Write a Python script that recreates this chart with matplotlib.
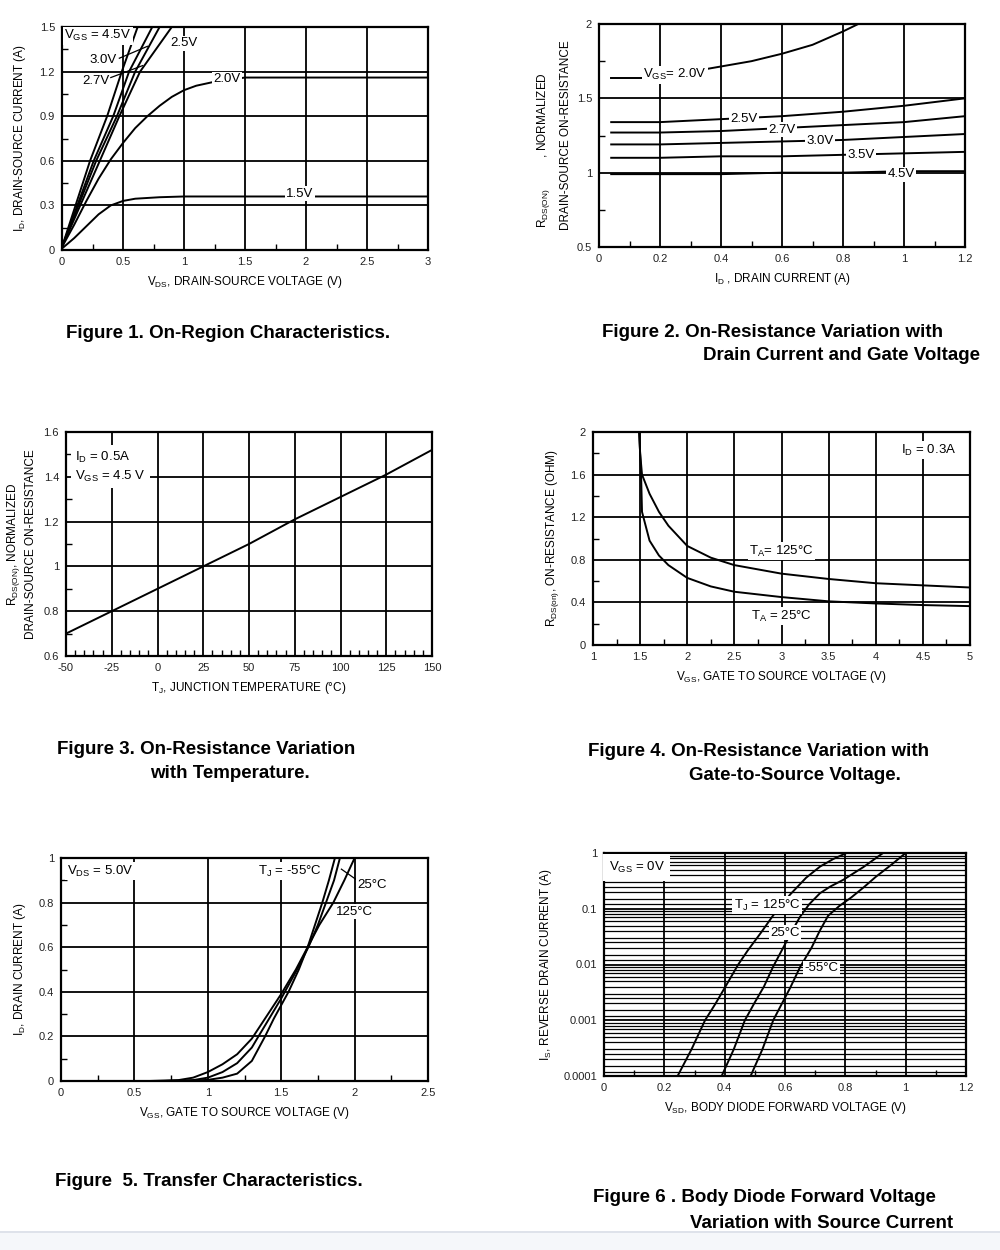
import matplotlib
matplotlib.use("Agg")
import matplotlib.pyplot as plt
from matplotlib.ticker import MultipleLocator, FuncFormatter, FixedLocator, LogLocator, NullFormatter

plt.rcParams['font.family'] = ['Liberation Sans', 'DejaVu Sans']
plt.rcParams['mathtext.default'] = 'regular'

# ---- Figure 1: on-region characteristics (ID vs VDS)
f1_vds_45 = [0, 0.23, 0.37, 0.49, 0.62]
f1_id_45 = [0.02, 0.6, 0.9, 1.2, 1.5]
f1_vds_30 = [0, 0.26, 0.42, 0.55, 0.74]
f1_id_30 = [0.02, 0.6, 0.9, 1.2, 1.5]
f1_vds_27 = [0, 0.28, 0.45, 0.60, 0.80]
f1_id_27 = [0.02, 0.6, 0.9, 1.2, 1.5]
f1_vds_25 = [0, 0.31, 0.47, 0.64, 0.90]
f1_id_25 = [0.02, 0.6, 0.9, 1.2, 1.5]
f1_vds_20 = [0, 0.1, 0.2, 0.3, 0.4, 0.5, 0.6, 0.7, 0.8, 0.9, 1.0, 1.1, 1.24, 1.5, 3.0]
f1_id_20 = [0.02, 0.17, 0.33, 0.48, 0.61, 0.72, 0.82, 0.9, 0.97, 1.03, 1.075, 1.105, 1.13, 1.16, 1.16]
f1_vds_15 = [0, 0.1, 0.2, 0.3, 0.4, 0.5, 0.6, 0.8, 1.0, 3.0]
f1_id_15 = [0.01, 0.08, 0.16, 0.24, 0.3, 0.33, 0.345, 0.355, 0.36, 0.36]

# ---- Figure 2: normalized RDS(on) vs ID
f2_id = [0.04, 0.2, 0.4, 0.6, 0.8, 1.0, 1.2]
f2_r25 = [1.34, 1.34, 1.36, 1.38, 1.41, 1.45, 1.50]
f2_r27 = [1.27, 1.27, 1.28, 1.30, 1.32, 1.34, 1.38]
f2_r30 = [1.19, 1.19, 1.20, 1.21, 1.22, 1.24, 1.26]
f2_r35 = [1.10, 1.10, 1.11, 1.11, 1.12, 1.13, 1.14]
f2_r45 = [0.99, 0.99, 0.99, 1.00, 1.00, 1.01, 1.01]
f2_id_20 = [0.04, 0.14, 0.36, 0.5, 0.6, 0.7, 0.8, 0.85]
f2_r20 = [1.64, 1.64, 1.70, 1.75, 1.80, 1.86, 1.95, 2.0]

# ---- Figure 3: normalized RDS(on) vs temperature
f3_tj = [-50, -25, 0, 25, 50, 75, 100, 125, 150]
f3_r = [0.70, 0.80, 0.90, 1.00, 1.10, 1.21, 1.31, 1.41, 1.52]

# ---- Figure 4: RDS(on) vs VGS
f4_vgs_125 = [1.49, 1.50, 1.52, 1.6, 1.7, 1.8, 2.0, 2.25, 2.5, 3.0, 3.5, 4.0, 4.5, 5.0]
f4_r_125 = [2.0, 1.8, 1.6, 1.42, 1.25, 1.12, 0.93, 0.82, 0.75, 0.67, 0.62, 0.58, 0.56, 0.54]
f4_vgs_25 = [1.49, 1.51, 1.52, 1.6, 1.7, 1.8, 2.0, 2.25, 2.5, 3.0, 3.5, 4.0, 4.5, 5.0]
f4_r_25 = [2.0, 1.6, 1.25, 0.98, 0.84, 0.75, 0.63, 0.55, 0.50, 0.45, 0.41, 0.39, 0.375, 0.365]

# ---- Figure 5: transfer characteristics
f5_vgs_125 = [0.6, 0.8, 0.9, 1.0, 1.1, 1.2, 1.3, 1.4, 1.5, 1.6, 1.68, 1.76, 1.855, 1.93, 2.0]
f5_id_125 = [0, 0.004, 0.015, 0.04, 0.075, 0.12, 0.19, 0.29, 0.39, 0.5, 0.6, 0.7, 0.8, 0.9, 1.0]
f5_vgs_25 = [0.7, 0.9, 1.0, 1.1, 1.2, 1.3, 1.345, 1.4, 1.5, 1.6, 1.685, 1.75, 1.805, 1.86, 1.90]
f5_id_25 = [0, 0.004, 0.015, 0.04, 0.08, 0.15, 0.2, 0.26, 0.37, 0.49, 0.6, 0.7, 0.8, 0.9, 1.0]
f5_vgs_m55 = [0.8, 1.0, 1.1, 1.2, 1.3, 1.39, 1.45, 1.55, 1.62, 1.68, 1.73, 1.78, 1.825, 1.866]
f5_id_m55 = [0, 0.005, 0.015, 0.033, 0.09, 0.2, 0.28, 0.40, 0.5, 0.6, 0.7, 0.8, 0.9, 1.0]

# ---- Figure 6: body diode forward voltage
f6_vsd_125 = [0.244, 0.29, 0.335, 0.37, 0.40, 0.445, 0.477, 0.52, 0.56, 0.59, 0.617, 0.67, 0.716, 0.76, 0.804]
f6_is_125 = [1e-4, 3e-4, 1e-3, 2e-3, 3.8e-3, 0.01, 0.018, 0.037, 0.075, 0.12, 0.18, 0.36, 0.57, 0.78, 1.0]
f6_vsd_25 = [0.39, 0.43, 0.467, 0.50, 0.53, 0.56, 0.594, 0.62, 0.65, 0.68, 0.716, 0.75, 0.793, 0.86, 0.925]
f6_is_25 = [1e-4, 3e-4, 1e-3, 2.1e-3, 4e-3, 0.009, 0.02, 0.037, 0.072, 0.12, 0.19, 0.25, 0.33, 0.56, 1.0]
f6_vsd_m55 = [0.486, 0.525, 0.561, 0.59, 0.617, 0.65, 0.688, 0.715, 0.743, 0.78, 0.82, 0.86, 0.9, 0.95, 1.0]
f6_is_m55 = [1e-4, 3e-4, 1e-3, 2e-3, 3.8e-3, 0.009, 0.02, 0.04, 0.075, 0.112, 0.16, 0.24, 0.37, 0.6, 1.0]

W, H = 1000, 1250
fig = plt.figure(figsize=(10, 12.5), dpi=100)

LW = 1.4
GRID = 1.3
TICK_FS = 8
LAB_FS = 8.5
ANN_FS = 9.5
CAP_FS = 13.5
box = dict(facecolor='white', edgecolor='none', pad=1.0)
fmt = FuncFormatter(lambda v, p: '%g' % v)


def px_axes(l, t, r, b):
    return fig.add_axes([l / W, 1 - b / H, (r - l) / W, (b - t) / H])


def style(ax, xlim, ylim, xmaj, ymaj, xmin, ymin):
    ax.set_xlim(*xlim)
    ax.set_ylim(*ylim)
    ax.xaxis.set_major_locator(MultipleLocator(xmaj))
    ax.yaxis.set_major_locator(MultipleLocator(ymaj))
    ax.xaxis.set_minor_locator(MultipleLocator(xmin))
    ax.yaxis.set_minor_locator(MultipleLocator(ymin))
    ax.xaxis.set_major_formatter(fmt)
    ax.yaxis.set_major_formatter(fmt)
    ax.grid(True, which='major', color='black', lw=GRID)
    ax.tick_params(which='both', direction='in', labelsize=TICK_FS, labelcolor='#222222')
    ax.tick_params(which='major', length=0, pad=5)
    ax.tick_params(which='minor', length=4, width=1)
    for s in ax.spines.values():
        s.set_linewidth(1.6)


def caption(x, y, s):
    fig.text(x / W, 1 - y / H, s, fontsize=CAP_FS, fontweight='bold', ha='left', va='center')


# Figure 1
ax1 = px_axes(62, 27, 428, 250)
style(ax1, (0, 3), (0, 1.5), 0.5, 0.3, 0.25, 0.15)
for xs, ys in [(f1_vds_45, f1_id_45), (f1_vds_30, f1_id_30), (f1_vds_27, f1_id_27),
               (f1_vds_25, f1_id_25), (f1_vds_20, f1_id_20), (f1_vds_15, f1_id_15)]:
    ax1.plot(xs, ys, color='black', lw=LW)
ax1.text(0.02, 1.44, 'V$_{GS}$ = 4.5V', fontsize=ANN_FS, ha='left', va='center', bbox=box)
ax1.text(0.34, 1.28, '3.0V', fontsize=ANN_FS, ha='center', va='center')
ax1.plot([0.47, 0.70], [1.29, 1.37], color='black', lw=0.9)
ax1.text(0.28, 1.14, '2.7V', fontsize=ANN_FS, ha='center', va='center')
ax1.plot([0.40, 0.66], [1.16, 1.24], color='black', lw=0.9)
ax1.text(1.0, 1.39, '2.5V', fontsize=ANN_FS, ha='center', va='center', bbox=box)
ax1.text(1.35, 1.15, '2.0V', fontsize=ANN_FS, ha='center', va='center', bbox=box)
ax1.text(1.95, 0.38, '1.5V', fontsize=ANN_FS, ha='center', va='center', bbox=box)
ax1.set_xlabel('V$_{DS}$, DRAIN-SOURCE VOLTAGE (V)', fontsize=LAB_FS, labelpad=5)
ax1.set_ylabel('I$_D$, DRAIN-SOURCE CURRENT (A)', fontsize=LAB_FS, labelpad=8)
caption(66, 333, 'Figure 1. On-Region Characteristics.')

# Figure 2
ax2 = px_axes(599, 24, 965, 247)
style(ax2, (0, 1.2), (0.5, 2), 0.2, 0.5, 0.1, 0.25)
ax2.plot(f2_id_20[:2], f2_r20[:2], color='black', lw=LW)
ax2.plot(f2_id_20[2:], f2_r20[2:], color='black', lw=LW)
for ys in [f2_r25, f2_r27, f2_r30, f2_r35, f2_r45]:
    ax2.plot(f2_id, ys, color='black', lw=LW)
ax2.text(0.145, 1.66, 'V$_{GS}$= 2.0V', fontsize=ANN_FS, ha='left', va='center', bbox=box)
ax2.text(0.475, 1.36, '2.5V', fontsize=ANN_FS, ha='center', va='center', bbox=box)
ax2.text(0.6, 1.29, '2.7V', fontsize=ANN_FS, ha='center', va='center', bbox=box)
ax2.text(0.725, 1.21, '3.0V', fontsize=ANN_FS, ha='center', va='center', bbox=box)
ax2.text(0.86, 1.12, '3.5V', fontsize=ANN_FS, ha='center', va='center', bbox=box)
ax2.text(0.99, 0.99, '4.5V', fontsize=ANN_FS, ha='center', va='center', bbox=box)
ax2.set_xlabel('I$_D$ , DRAIN CURRENT (A)', fontsize=LAB_FS, labelpad=5)
fig.text(543 / W, 1 - 150 / H, 'R$_{DS(ON)}$          , NORMALIZED', fontsize=LAB_FS,
         rotation=90, ha='center', va='center')
fig.text(566 / W, 1 - 135 / H, 'DRAIN-SOURCE ON-RESISTANCE', fontsize=LAB_FS,
         rotation=90, ha='center', va='center')
caption(602, 332, 'Figure 2. On-Resistance Variation with')
caption(703, 356, 'Drain Current and Gate Voltage')

# Figure 3
ax3 = px_axes(66, 432, 432, 656)
style(ax3, (-50, 150), (0.6, 1.6), 25, 0.2, 5, 0.1)
ax3.plot(f3_tj, f3_r, color='black', lw=LW)
ax3.text(-45, 1.445, 'I$_D$ = 0.5A\nV$_{GS}$ = 4.5 V', fontsize=ANN_FS, ha='left', va='center',
         linespacing=1.4, bbox=dict(facecolor='white', edgecolor='none', pad=3))
ax3.set_xlabel('T$_J$, JUNCTION TEMPERATURE (°C)', fontsize=LAB_FS, labelpad=5)
ax3.set_ylabel('R$_{DS(ON)}$, NORMALIZED\nDRAIN-SOURCE ON-RESISTANCE', fontsize=LAB_FS,
               labelpad=5, linespacing=1.3)
caption(57, 750, 'Figure 3. On-Resistance Variation')
caption(150, 774, 'with Temperature.')

# Figure 4
ax4 = px_axes(593, 432, 970, 645)
style(ax4, (1, 5), (0, 2), 0.5, 0.4, 0.25, 0.2)
ax4.plot(f4_vgs_125, f4_r_125, color='black', lw=LW)
ax4.plot(f4_vgs_25, f4_r_25, color='black', lw=LW)
ax4.text(4.85, 1.83, 'I$_D$ = 0.3A', fontsize=ANN_FS, ha='right', va='center', bbox=box)
ax4.text(3.0, 0.88, 'T$_A$= 125°C', fontsize=ANN_FS, ha='center', va='center', bbox=box)
ax4.text(3.0, 0.27, 'T$_A$ = 25°C', fontsize=ANN_FS, ha='center', va='center', bbox=box)
ax4.set_xlabel('V$_{GS}$, GATE TO SOURCE VOLTAGE (V)', fontsize=LAB_FS, labelpad=5)
ax4.set_ylabel('R$_{DS(on)}$, ON-RESISTANCE (OHM)', fontsize=LAB_FS, labelpad=7)
caption(588, 752, 'Figure 4. On-Resistance Variation with')
caption(689, 776, 'Gate-to-Source Voltage.')

# Figure 5
ax5 = px_axes(61, 858, 428, 1081)
style(ax5, (0, 2.5), (0, 1), 0.5, 0.2, 0.25, 0.1)
ax5.plot(f5_vgs_125, f5_id_125, color='black', lw=LW)
ax5.plot(f5_vgs_25, f5_id_25, color='black', lw=LW)
ax5.plot(f5_vgs_m55, f5_id_m55, color='black', lw=LW)
ax5.text(0.04, 0.94, 'V$_{DS}$ = 5.0V', fontsize=ANN_FS, ha='left', va='center', bbox=box)
ax5.text(1.56, 0.94, 'T$_J$ = -55°C', fontsize=ANN_FS, ha='center', va='center', bbox=box)
ax5.text(2.12, 0.88, '25°C', fontsize=ANN_FS, ha='center', va='center', bbox=box)
ax5.plot([1.91, 2.04], [0.95, 0.89], color='black', lw=0.9)
ax5.text(2.0, 0.76, '125°C', fontsize=ANN_FS, ha='center', va='center', bbox=box)
ax5.set_xlabel('V$_{GS}$, GATE TO SOURCE VOLTAGE (V)', fontsize=LAB_FS, labelpad=5)
ax5.set_ylabel('I$_D$, DRAIN CURRENT (A)', fontsize=LAB_FS, labelpad=8)
caption(55, 1181, 'Figure  5. Transfer Characteristics.')

# Figure 6
ax6 = px_axes(604, 853, 966, 1076)
ax6.set_yscale('log')
ax6.set_xlim(0, 1.2)
ax6.set_ylim(1e-4, 1)
ax6.xaxis.set_major_locator(MultipleLocator(0.2))
ax6.xaxis.set_minor_locator(MultipleLocator(0.1))
ax6.xaxis.set_major_formatter(fmt)
ax6.yaxis.set_major_locator(FixedLocator([1e-4, 1e-3, 1e-2, 1e-1, 1]))
ax6.yaxis.set_major_formatter(FuncFormatter(lambda v, p: '%g' % v if v >= 1e-3 else '0.0001'))
ax6.yaxis.set_minor_locator(LogLocator(base=10, subs=[1.2, 1.5, 2, 2.5, 3, 4, 5, 6, 7, 8, 9], numticks=20))
ax6.yaxis.set_minor_formatter(NullFormatter())
ax6.grid(True, which='major', color='black', lw=GRID)
ax6.grid(True, which='minor', axis='y', color='black', lw=0.9)
ax6.tick_params(which='both', direction='in', labelsize=TICK_FS, labelcolor='#222222')
ax6.tick_params(which='major', length=0, pad=5)
ax6.tick_params(axis='x', which='minor', length=4, width=1)
ax6.tick_params(axis='y', which='minor', length=0)
for s in ax6.spines.values():
    s.set_linewidth(1.6)
ax6.plot(f6_vsd_125, f6_is_125, color='black', lw=LW)
ax6.plot(f6_vsd_25, f6_is_25, color='black', lw=LW)
ax6.plot(f6_vsd_m55, f6_is_m55, color='black', lw=LW)
ax6.text(0.015, 0.55, 'V$_{GS}$ = 0V', fontsize=ANN_FS, ha='left', va='center',
         bbox=dict(facecolor='white', edgecolor='none', pad=4))
ax6.text(0.43, 0.115, 'T$_J$ = 125°C', fontsize=ANN_FS, ha='left', va='center', bbox=box)
ax6.text(0.6, 0.037, '25°C', fontsize=ANN_FS, ha='center', va='center', bbox=box)
ax6.text(0.72, 0.0085, '-55°C', fontsize=ANN_FS, ha='center', va='center', bbox=box)
ax6.set_xlabel('V$_{SD}$, BODY DIODE FORWARD VOLTAGE (V)', fontsize=LAB_FS, labelpad=5)
ax6.set_ylabel('I$_S$, REVERSE DRAIN CURRENT (A)', fontsize=LAB_FS, labelpad=7)
caption(593, 1198, 'Figure 6 . Body Diode Forward Voltage')
caption(690, 1223, 'Variation with Source Current')

# faint line at the bottom edge
fig.add_artist(plt.Line2D([0, 1], [1 - 1232 / H, 1 - 1232 / H], color='#d8dde6', lw=1.2))
fig.patches.append(plt.Rectangle((0, 0), 1, 1 - 1233 / H, transform=fig.transFigure,
                                 facecolor='#f5f7fa', edgecolor='none', zorder=-1))

fig.savefig('out.png', dpi=100)
